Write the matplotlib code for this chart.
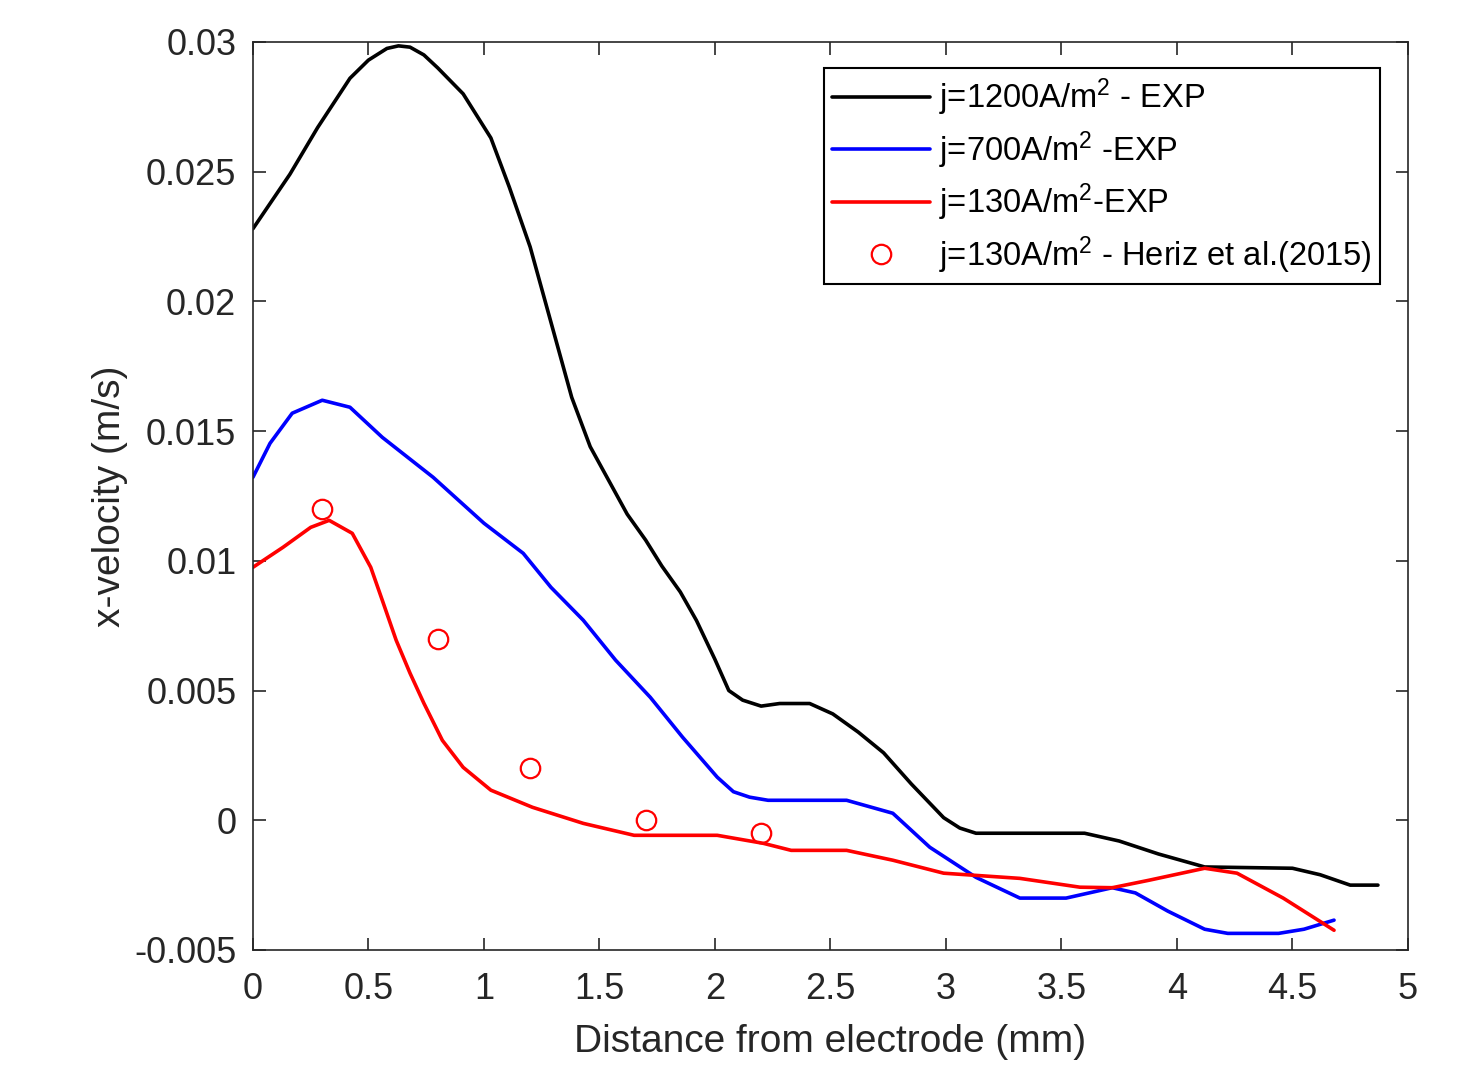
import numpy as np
import matplotlib
matplotlib.use('Agg')
import matplotlib.pyplot as plt
from matplotlib.ticker import FuncFormatter

plt.rcParams['font.family'] = ['Liberation Sans', 'DejaVu Sans']
plt.rcParams['mathtext.fontset'] = 'custom'
plt.rcParams['mathtext.rm'] = 'Liberation Sans'
plt.rcParams['mathtext.it'] = 'Liberation Sans:italic'

x_1200 = [0, 0.16, 0.28, 0.42, 0.50, 0.58, 0.63, 0.68, 0.74, 0.80, 0.91, 1.03, 1.11, 1.20,
          1.29, 1.38, 1.46, 1.54, 1.62, 1.70, 1.77, 1.85, 1.92, 2.00, 2.06, 2.12, 2.20,
          2.28, 2.41, 2.51, 2.62, 2.73, 2.85, 2.99, 3.06, 3.13, 3.60, 3.75, 3.92, 4.12,
          4.50, 4.62, 4.75, 4.87]
v_1200 = [0.0228, 0.0249, 0.0267, 0.0286, 0.0293, 0.02975, 0.02985, 0.0298, 0.0295, 0.0290,
          0.0280, 0.0263, 0.0244, 0.0221, 0.0192, 0.0163, 0.0144, 0.0131, 0.0118, 0.0108,
          0.0098, 0.0088, 0.0077, 0.0062, 0.0050, 0.00463, 0.0044, 0.0045, 0.0045, 0.0041,
          0.0034, 0.0026, 0.0014, 0.0001, -0.0003, -0.0005, -0.0005, -0.0008, -0.0013,
          -0.0018, -0.00185, -0.0021, -0.0025, -0.0025]

x_700 = [0, 0.074, 0.17, 0.30, 0.42, 0.56, 0.78, 1.00, 1.17, 1.29, 1.43, 1.57, 1.72, 1.86,
         2.01, 2.08, 2.15, 2.23, 2.57, 2.77, 2.93, 3.13, 3.32, 3.52, 3.72, 3.82, 3.96, 4.12,
         4.22, 4.44, 4.55, 4.68]
v_700 = [0.01322, 0.01453, 0.01569, 0.01619, 0.01592, 0.01476, 0.01322, 0.01145, 0.01029,
         0.00898, 0.00771, 0.00617, 0.00474, 0.00320, 0.00166, 0.0011, 0.00089, 0.00077,
         0.00077, 0.00027, -0.00104, -0.0022, -0.0030, -0.0030, -0.0026, -0.0028, -0.0035,
         -0.0042, -0.00436, -0.00436, -0.0042, -0.00385]

x_130 = [0, 0.13, 0.25, 0.33, 0.43, 0.51, 0.56, 0.62, 0.68, 0.74, 0.82, 0.91, 1.03, 1.21,
         1.43, 1.65, 2.01, 2.21, 2.33, 2.57, 2.77, 2.99, 3.32, 3.58, 3.72, 3.88, 4.12, 4.26,
         4.46, 4.68]
v_130 = [0.00975, 0.01052, 0.01129, 0.01156, 0.01106, 0.00975, 0.00848, 0.00694, 0.00567,
         0.00451, 0.00308, 0.00204, 0.00116, 0.0005, -0.00012, -0.00058, -0.00058, -0.00089,
         -0.00116, -0.00116, -0.00154, -0.00204, -0.00224, -0.00258, -0.0026, -0.00231,
         -0.00185, -0.00204, -0.0030, -0.00424]

# Heriz et al. (2015)
x_ref = [0.3, 0.8, 1.2, 1.7, 2.2]
v_ref = [0.0120, 0.0070, 0.0020, 0.0000, -0.0005]

labels = [r'j=1200A/m$^2$ - EXP', r'j=700A/m$^2$ -EXP', r'j=130A/m$^2$-EXP',
          r'j=130A/m$^2$ - Heriz et al.(2015)']

# --- plot ---
fig = plt.figure(figsize=(14.68, 10.65), dpi=100)
ax = fig.add_axes([0.1723, 0.108, 0.7868, 0.8526])

kw = dict(lw=2.6, solid_joinstyle='round', solid_capstyle='round')
ax.plot(x_1200, v_1200, color='black', label=labels[0], **kw)
ax.plot(x_700, v_700, color='blue', label=labels[1], **kw)
ax.plot(x_130, v_130, color='red', label=labels[2], **kw)
ax.plot(x_ref, v_ref, 'o', mfc='none', mec='red', ms=14, mew=1.6, label=labels[3])

ax.set_xlim(0, 5)
ax.set_ylim(-0.005, 0.03)
ax.set_xticks(np.arange(0, 5.01, 0.5))
ax.set_yticks(np.arange(-0.005, 0.0301, 0.005))
ax.xaxis.set_major_formatter(FuncFormatter(lambda v, p: '%g' % round(v, 4)))
ax.yaxis.set_major_formatter(FuncFormatter(lambda v, p: '%g' % round(v, 4)))

gray = '#262626'
for s in ax.spines.values():
    s.set_color(gray)
    s.set_linewidth(1.2)
ax.tick_params(direction='in', length=9, width=1.2, colors=gray, labelsize=26,
               top=True, right=True)
ax.tick_params(axis='x', pad=16)
ax.tick_params(axis='y', pad=12)

ax.set_xlabel('Distance from electrode (mm)', fontsize=28, color=gray, labelpad=12)
ax.set_ylabel('x-velocity (m/s)', fontsize=28, color=gray, labelpad=4)

leg = ax.legend(loc='upper right', bbox_to_anchor=(0.976, 0.971), fontsize=23.5,
                frameon=True, fancybox=False, edgecolor='black', framealpha=1,
                handlelength=3.0, handletextpad=0.3, labelspacing=0.34,
                borderpad=0.25, borderaxespad=0)
leg.get_frame().set_linewidth(1.5)

plt.savefig('out.png', dpi=100)
